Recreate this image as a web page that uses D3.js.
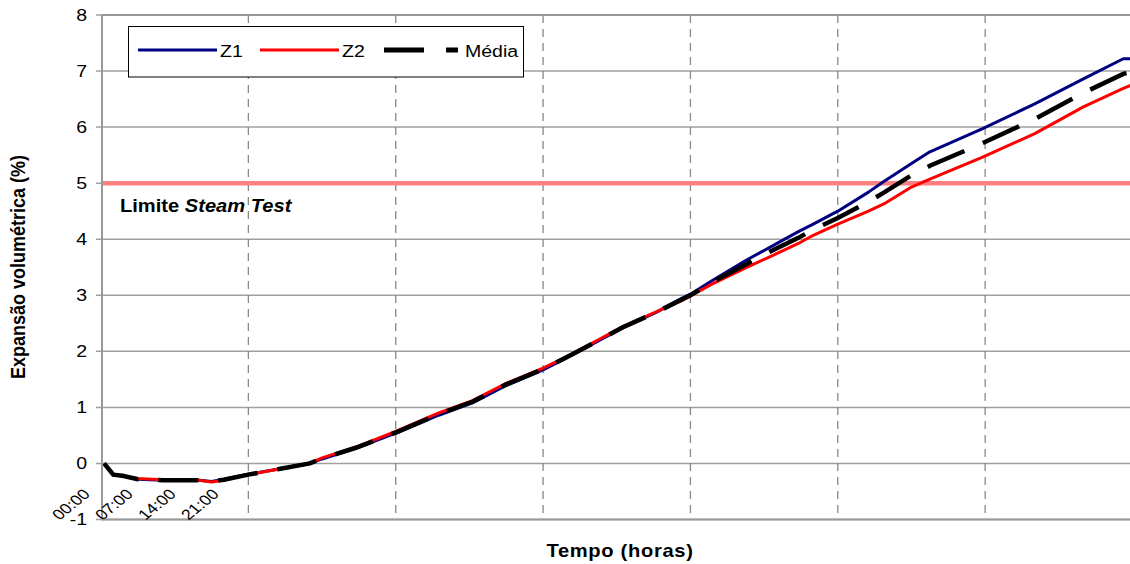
<!DOCTYPE html>
<html><head><meta charset="utf-8">
<script src="https://cdn.jsdelivr.net/npm/d3@7"></script>
<style>
html,body{margin:0;padding:0;background:#fff;overflow:hidden}
text{font-family:"Liberation Sans",Arial,sans-serif;fill:#000}
</style></head>
<body><svg id="c" width="1130" height="564"></svg>
<script>
// ---- data (hours since start, expansion %) ----
const hours = [0.5, 2, 3.5, 6, 10, 16, 18, 20, 24, 29, 34, 36, 41.5, 48, 55, 60.5, 66, 72, 77, 85, 90.5, 94.5, 96, 99.5, 105, 109, 113.5, 116, 120, 125, 127.5, 132, 135, 143.5, 152, 160, 166.5, 168];
const z1 = [0.0, -0.2, -0.22, -0.28, -0.30, -0.30, -0.32, -0.28, -0.19, -0.10, 0.0, 0.08, 0.27, 0.54, 0.86, 1.08, 1.39, 1.67, 1.95, 2.42, 2.70, 2.94, 3.02, 3.26, 3.62, 3.86, 4.13, 4.27, 4.50, 4.84, 5.03, 5.35, 5.56, 5.97, 6.41, 6.86, 7.22, 7.22];
const z2 = [0.0, -0.19, -0.23, -0.27, -0.29, -0.30, -0.33, -0.30, -0.20, -0.10, 0.0, 0.10, 0.29, 0.57, 0.90, 1.12, 1.43, 1.70, 1.97, 2.44, 2.71, 2.90, 2.99, 3.20, 3.49, 3.69, 3.92, 4.07, 4.27, 4.50, 4.63, 4.93, 5.07, 5.46, 5.88, 6.36, 6.69, 6.76];
const media = [0.0, -0.2, -0.22, -0.28, -0.30, -0.30, -0.32, -0.29, -0.2, -0.1, 0.0, 0.09, 0.28, 0.55, 0.88, 1.10, 1.41, 1.68, 1.96, 2.43, 2.70, 2.92, 3.0, 3.23, 3.55, 3.78, 4.02, 4.17, 4.38, 4.67, 4.83, 5.14, 5.31, 5.71, 6.14, 6.61, 6.95, 6.99];
const yTicks = [-1, 0, 1, 2, 3, 4, 5, 6, 7, 8];
const xLabelHours = [0, 7, 14, 21];
const xLabels = ["00:00", "07:00", "14:00", "21:00"];
const xGridHours = [24, 48, 72, 96, 120, 144];
const limitValue = 5;
const seriesNames = ["Z1", "Z2", "Média"];

// ---- layout ----
const L = 102, T = 15, B = 519.5, Rr = 1132.5;
const svg = d3.select("#c");
const x = d3.scaleLinear().domain([0, 168]).range([101, Rr]);
const y = d3.scaleLinear().domain([-1, 8]).range([B, T]);
const SX = 1.22;

// horizontal gridlines
svg.append("g").selectAll("line").data(yTicks).join("line")
  .attr("x1", 96).attr("x2", 1130).attr("y1", d => y(d)).attr("y2", d => y(d))
  .attr("stroke", "#a0a0a0").attr("stroke-width", 1.5);

// vertical dashed gridlines
svg.append("g").selectAll("line").data(xGridHours).join("line")
  .attr("x1", d => x(d)).attr("x2", d => x(d)).attr("y1", T).attr("y2", B)
  .attr("stroke", "#888").attr("stroke-width", 1.3).attr("stroke-dasharray", "8,6");

// limit line
svg.append("line").attr("x1", L).attr("x2", 1130).attr("y1", y(limitValue)).attr("y2", y(limitValue))
  .attr("stroke", "#ff8080").attr("stroke-width", 4.5);

// series
const line = vals => d3.line().x((d, i) => x(hours[i])).y(d => y(d))(vals);
svg.append("path").attr("d", line(z1)).attr("fill", "none").attr("stroke", "#000080").attr("stroke-width", 3).attr("stroke-linejoin", "round");
svg.append("path").attr("d", line(z2)).attr("fill", "none").attr("stroke", "#ff0000").attr("stroke-width", 3).attr("stroke-linejoin", "round");
svg.append("path").attr("d", line(media)).attr("fill", "none").attr("stroke", "#000").attr("stroke-width", 4.5).attr("stroke-dasharray", "40,20");

// plot border
svg.append("line").attr("x1", L).attr("x2", L).attr("y1", T - 1).attr("y2", B + 1).attr("stroke", "#999").attr("stroke-width", 2);
svg.append("line").attr("x1", L).attr("x2", 1130).attr("y1", T).attr("y2", T).attr("stroke", "#999").attr("stroke-width", 2);
svg.append("line").attr("x1", L).attr("x2", 1130).attr("y1", B).attr("y2", B).attr("stroke", "#999").attr("stroke-width", 2);

// y tick labels
svg.append("g").selectAll("text").data(yTicks).join("text")
  .attr("transform", d => `translate(87,${y(d) + 5.8}) scale(${SX},1)`)
  .attr("text-anchor", "end").attr("font-size", 16).text(d => d);

// x tick labels (rotated)
svg.append("g").selectAll("text").data(xLabelHours).join("text")
  .attr("transform", d => `translate(${x(d) - 10},495) scale(1.23,1) rotate(-45)`)
  .attr("text-anchor", "end").attr("font-size", 14.5).text((d, i) => xLabels[i]);

// axis titles
svg.append("text").attr("transform", `translate(620,557) scale(1.15,1)`)
  .attr("text-anchor", "middle").attr("font-size", 17.5).attr("font-weight", "bold")
  .attr("letter-spacing", 0.6).text("Tempo (horas)");
svg.append("text").attr("transform", `translate(25,267) scale(1.15,1) rotate(-90)`)
  .attr("text-anchor", "middle").attr("font-size", 18).attr("font-weight", "bold")
  .text("Expansão volumétrica (%)");

// limit label
const lt = svg.append("text").attr("transform", `translate(120,212) scale(1.15,1)`)
  .attr("font-size", 17.5).attr("font-weight", "bold");
lt.append("tspan").text("Limite ");
lt.append("tspan").attr("font-style", "italic").text("Steam Test");

// legend
const lg = svg.append("g");
lg.append("rect").attr("x", 128.5).attr("y", 26.5).attr("width", 395).attr("height", 50.5)
  .attr("fill", "#fff").attr("stroke", "#000").attr("stroke-width", 1);
const legItems = [
  {x1: 138, x2: 217, tx: 220, color: "#000080", w: 3, dash: null},
  {x1: 260, x2: 339, tx: 342, color: "#ff0000", w: 3, dash: null},
  {x1: 384, x2: 458, tx: 465, color: "#000", w: 5, dash: "40,22"}
];
legItems.forEach((it, i) => {
  const l = lg.append("line").attr("x1", it.x1).attr("x2", it.x2).attr("y1", 50).attr("y2", 50)
    .attr("stroke", it.color).attr("stroke-width", it.w);
  if (it.dash) l.attr("stroke-dasharray", it.dash);
  lg.append("text").attr("transform", `translate(${it.tx},56.5) scale(1.15,1)`)
    .attr("font-size", 17).text(seriesNames[i]);
});
</script></body></html>
